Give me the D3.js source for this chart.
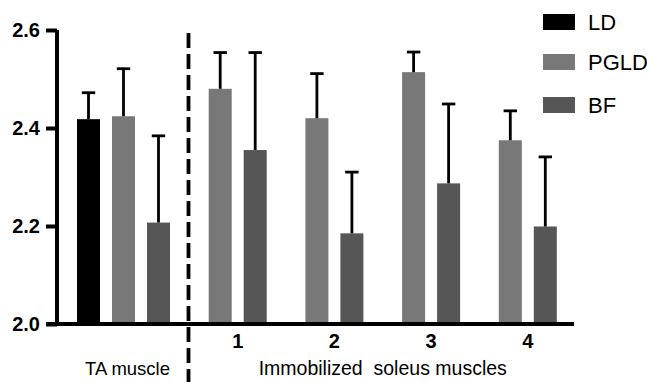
<!DOCTYPE html>
<html>
<head>
<meta charset="utf-8">
<script src="https://cdn.jsdelivr.net/npm/d3@7"></script>
<style>
  html, body { margin: 0; padding: 0; background: #fff; }
  svg { display: block; }
  text { font-family: "Liberation Sans", Arial, sans-serif; }
</style>
</head>
<body>
<svg id="chart" width="647" height="382"></svg>
<script>
// ---- data ----
const categories = ["TA muscle", "1", "2", "3", "4"];
const series = ["LD", "PGLD", "BF"];
const LD   = [2.418, null, null, null, null];
const PGLD = [2.424, 2.480, 2.420, 2.514, 2.375];
const BF   = [2.207, 2.355, 2.185, 2.287, 2.199];
const LD_err   = [0.054, null, null, null, null];
const PGLD_err = [0.097, 0.074, 0.091, 0.041, 0.060];
const BF_err   = [0.177, 0.199, 0.125, 0.162, 0.142];
const yTicks = [2.0, 2.2, 2.4, 2.6];
const groupTitles = ["TA muscle", "Immobilized  soleus muscles"];

const values = { LD: LD, PGLD: PGLD, BF: BF };
const errors = { LD: LD_err, PGLD: PGLD_err, BF: BF_err };
const colors = { LD: "#000000", PGLD: "#787878", BF: "#565656" };

const svg = d3.select("#chart");

// ---- scales ----
const y = d3.scaleLinear().domain([2.0, 2.6]).range([324, 30]);
const x0 = d3.scaleBand().domain(categories).range([75.15, 558.65]).padding(0);
const x1 = d3.scaleBand().domain(series).range([-46.5, 46.5])
  .paddingInner(12 / 35).paddingOuter(0);
const cx = c => x0(c) + x0.bandwidth() / 2;

// ---- bars ----
const bars = [];
series.forEach(s => {
  categories.forEach((c, i) => {
    if (values[s][i] != null) bars.push({ s, c, v: values[s][i], e: errors[s][i] });
  });
});

svg.append("g").selectAll("rect").data(bars).join("rect")
  .attr("x", d => cx(d.c) + x1(d.s))
  .attr("width", x1.bandwidth())
  .attr("y", d => y(d.v))
  .attr("height", d => y(2.0) - y(d.v))
  .attr("fill", d => colors[d.s]);

// ---- error bars (upper only) ----
const eg = svg.append("g").attr("stroke", "#000").attr("stroke-width", 2.8).attr("fill", "none");
bars.forEach(d => {
  const mx = cx(d.c) + x1(d.s) + x1.bandwidth() / 2;
  eg.append("line").attr("x1", mx).attr("x2", mx).attr("y1", y(d.v)).attr("y2", y(d.v + d.e));
  eg.append("line").attr("x1", mx - 6.7).attr("x2", mx + 6.7).attr("y1", y(d.v + d.e)).attr("y2", y(d.v + d.e));
});

// ---- y axis ----
const yAxis = d3.axisLeft(y).tickValues(yTicks).tickFormat(d3.format(".1f")).tickSize(11).tickPadding(6);
const ya = svg.append("g").attr("transform", "translate(57,0)").call(yAxis);
ya.select(".domain").attr("stroke", "#000").attr("stroke-width", 4)
  .attr("d", `M0,${y(2.6)}V${y(2.0)}`);
ya.selectAll(".tick line").attr("stroke", "#000").attr("stroke-width", 4);
ya.selectAll(".tick text")
  .attr("font-family", "'Liberation Sans', Arial, sans-serif")
  .attr("font-size", 20).attr("font-weight", "bold").attr("fill", "#000");

// ---- x axis line ----
svg.append("line").attr("x1", 46).attr("x2", 574).attr("y1", y(2.0)).attr("y2", y(2.0))
  .attr("stroke", "#000").attr("stroke-width", 4);

// ---- dashed separator ----
svg.append("line")
  .attr("x1", 188.5).attr("x2", 188.5).attr("y1", 33).attr("y2", 382)
  .attr("stroke", "#000").attr("stroke-width", 3.8).attr("stroke-dasharray", "15,6");

// ---- x labels ----
const soleus = categories.slice(1);
const labelX = c => cx(c) + (x1("PGLD") + x1("BF") + x1.bandwidth()) / 2;
svg.append("g").selectAll("text").data(soleus).join("text")
  .attr("x", d => labelX(d)).attr("y", 348)
  .attr("text-anchor", "middle").attr("font-size", 20).attr("font-weight", "bold")
  .text(d => d);

svg.append("text")
  .attr("x", cx("TA muscle") + 4).attr("y", 375)
  .attr("text-anchor", "middle").attr("font-size", 18.5)
  .text(groupTitles[0]);

svg.append("text")
  .attr("x", (labelX(soleus[0]) + labelX(soleus[soleus.length - 1])) / 2).attr("y", 375)
  .attr("text-anchor", "middle").attr("font-size", 19.5)
  .style("white-space", "pre")
  .text(groupTitles[1]);

// ---- legend ----
const legY = [22, 62, 105];
const lg = svg.append("g");
series.forEach((s, i) => {
  lg.append("rect").attr("x", 543).attr("y", legY[i] - 8).attr("width", 32).attr("height", 16)
    .attr("fill", colors[s]);
  lg.append("text").attr("x", 588).attr("y", legY[i] + 7.5)
    .attr("font-size", 22).attr("fill", "#000").text(s);
});
</script>
</body>
</html>
